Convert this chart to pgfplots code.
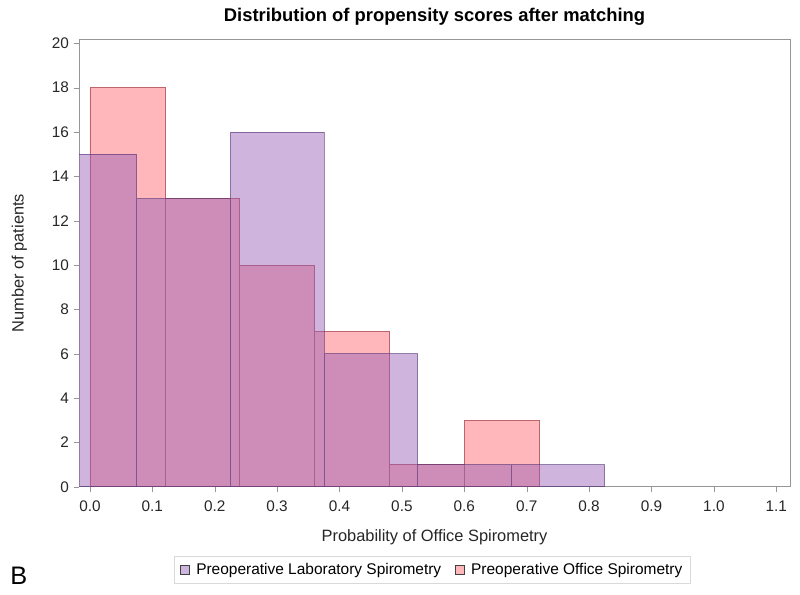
\documentclass[border=0pt]{standalone}
\usepackage{fontspec}
\setmainfont{Liberation Sans}
\usepackage{pgfplots}
\pgfplotsset{compat=1.18}
\definecolor{labfill}{RGB}{148,91,182}
\definecolor{labdraw}{RGB}{70,40,110}
\definecolor{offfill}{RGB}{255,183,188}
\definecolor{offdraw}{RGB}{190,100,110}
\definecolor{axgray}{RGB}{150,150,150}

\begin{document}
\begin{tikzpicture}
\path (0,0) rectangle (600pt,446.25pt);
\begin{axis}[
    at={(59.25pt,81.2pt)}, anchor=south west,
    scale only axis, width=533.25pt, height=335.5pt,
    xmin=-0.0175, xmax=1.122, ymin=0, ymax=20.18,
    xtick={0,0.1,0.2,0.3,0.4,0.5,0.6,0.7,0.8,0.9,1.0,1.1},
    ytick={0,2,4,6,8,10,12,14,16,18,20},
    xticklabel style={/pgf/number format/.cd, fixed, fixed zerofill, precision=1, /tikz/.cd, yshift=-3pt},
    /pgf/number format/assume math mode=true,
    tick label style={font=\fontsize{11.5}{13}\selectfont, text=black!85},
    axis line style={axgray}, tick style={axgray},
    tick align=outside, tick pos=left, major tick length=4pt,
    title={\bfseries Distribution of propensity scores after matching},
    title style={font=\fontsize{13.8}{15}\selectfont, yshift=1pt},
    xlabel={Probability of Office Spirometry},
    ylabel={Number of patients},
    label style={font=\fontsize{12.3}{14}\selectfont, text=black!85},
    xlabel style={at={(axis description cs:0.5,-0.113)}, anchor=center},
    ylabel style={at={(axis description cs:-0.084,0.5)}, anchor=center, rotate=0},
    legend style={at={(axis description cs:0.497,-0.186)}, anchor=center,
        legend columns=2, draw=black!15, font=\fontsize{11.6}{13}\selectfont,
        inner xsep=4pt, inner ysep=3pt,
        /tikz/every odd column/.append style={column sep=3pt},
        /tikz/every even column/.append style={column sep=8pt}},
    reverse legend,
    legend image code/.code={\draw[#1, draw=black!75, draw opacity=1, line width=0.6pt] (0cm,-0.11cm) rectangle (0.24cm,0.13cm);},
]
\addplot[ybar interval, fill=offfill, draw=offdraw] coordinates {
    (0.00,18) (0.12,13) (0.24,10) (0.36,7) (0.48,1) (0.60,3) (0.72,3)
};
\addlegendentry{Preoperative Office Spirometry}
\addplot[ybar interval, fill=labfill, fill opacity=0.45, draw=labdraw, draw opacity=0.55] coordinates {
    (-0.075,15) (0.075,13) (0.225,16) (0.375,6) (0.525,1) (0.675,1) (0.825,1)
};
\addlegendentry{Preoperative Laboratory Spirometry}
\end{axis}
\node[anchor=base west, inner sep=0pt] at (7.5pt,7.5pt) {\fontsize{19}{22}\selectfont B};
\end{tikzpicture}
\end{document}
